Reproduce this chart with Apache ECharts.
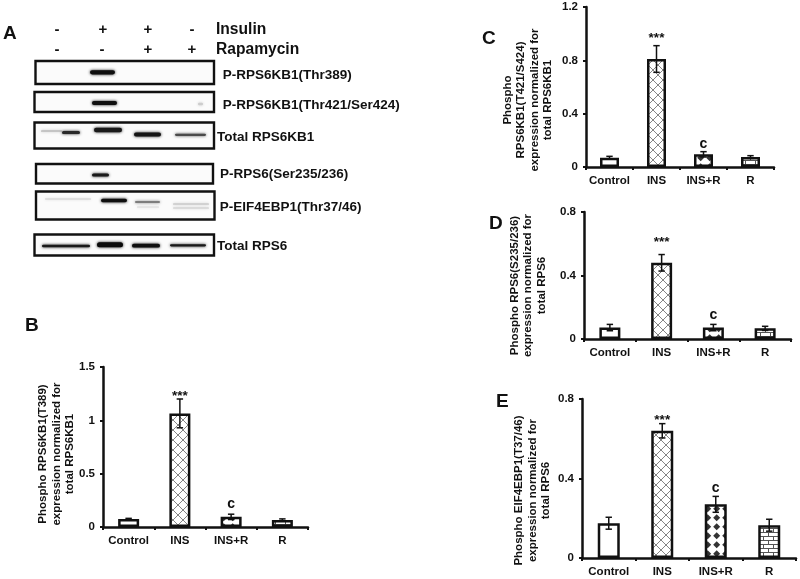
<!DOCTYPE html>
<html><head><meta charset="utf-8">
<style>html,body{margin:0;padding:0;background:#fff}#c{width:800px;height:579px}</style>
<script src="https://cdn.jsdelivr.net/npm/echarts@6/dist/echarts.min.js"></script>
</head><body><div id="c"></div>
<script>
const categories = ['Control', 'INS', 'INS+R', 'R'];
const fills = ['none', 'cross', 'diamond', 'brick'];

const valuesB = [0.075, 1.065, 0.095, 0.066];
const errorsB = [0.006, 0.135, 0.025, 0.010];
const valuesC = [0.07, 0.81, 0.095, 0.075];
const errorsC = [0.01, 0.10, 0.02, 0.01];
const valuesD = [0.072, 0.48, 0.072, 0.067];
const errorsD = [0.02, 0.052, 0.02, 0.013];
const valuesE = [0.175, 0.64, 0.27, 0.165];
const errorsE = [0.03, 0.036, 0.04, 0.03];
const marks = ['', '***', 'c', ''];

const nameB = 'Phospho RPS6KB1(T389)\nexpression normalized for\ntotal RPS6KB1';
const nameC = 'Phospho\nRPS6KB1(T421/S424)\nexpression normalized for\ntotal RPS6KB1';
const nameD = 'Phospho RPS6(S235/236)\nexpression normalized for\ntotal RPS6';
const nameE = 'Phospho EIF4EBP1(T37/46)\nexpression normalized for\ntotal RPS6';

const insulinSigns = ['-', '+', '+', '-'];
const rapamycinSigns = ['-', '-', '+', '+'];
const blotLabels = ['P-RPS6KB1(Thr389)', 'P-RPS6KB1(Thr421/Ser424)', 'Total RPS6KB1',
  'P-RPS6(Ser235/236)', 'P-EIF4EBP1(Thr37/46)', 'Total RPS6'];

// Blot bands: [left, right, middle, thickness, grey level] on the blot's own scale
const blotBands = [
  [90, 115, 72.3, 4.2, 15],
  [92, 117, 103, 3.8, 15],
  [41, 62, 131, 1.2, 165], [62, 80, 132.5, 3, 40],
  [94, 122, 130, 4.4, 25], [134, 161, 134.5, 4, 20], [175, 206, 134.8, 2.2, 75],
  [92, 109, 175, 3.2, 25],
  [45, 91, 199, 0.8, 205],
  [101, 127, 200.5, 3.4, 15], [135, 160, 202, 2.2, 125], [137, 159, 207, 1.2, 215],
  [173, 209, 204, 1.2, 185], [173, 209, 208, 1.2, 200],
  [42, 90, 246, 2.6, 25], [97, 123, 244.7, 5, 10], [132, 160, 245.7, 3.8, 15], [170, 206, 245.3, 2.2, 25],
  [198, 203, 104, 2.4, 205]
];
const blotBoxes = [
  [35.5, 214, 61, 84], [34.5, 214, 92, 112], [34.5, 214, 122.5, 148.5],
  [36, 213, 164, 183.5], [36, 214.5, 191.5, 219.5], [34.5, 214, 234.5, 255.5]
];

const INK = '#111';
const FONT = '"Liberation Sans", Arial, sans-serif';

function tile(w, h, draw) {
  const c = document.createElement('canvas');
  c.width = w; c.height = h;
  const g = c.getContext('2d');
  g.fillStyle = '#fff'; g.fillRect(0, 0, w, h);
  draw(g);
  return c;
}
const tiles = {
  cross: tile(10, 10, g => {
    g.strokeStyle = '#777'; g.lineWidth = 0.9;
    g.beginPath();
    g.moveTo(0, 0); g.lineTo(10, 10); g.moveTo(10, 0); g.lineTo(0, 10);
    g.stroke();
  }),
  diamond: tile(9.4, 9.4, g => {
    g.fillStyle = '#333';
    g.beginPath();
    g.moveTo(4.7, 1.2); g.lineTo(8.2, 4.7); g.lineTo(4.7, 8.2); g.lineTo(1.2, 4.7);
    g.closePath(); g.fill();
  }),
  brick: tile(10, 8, g => {
    g.strokeStyle = '#555'; g.lineWidth = 1;
    g.beginPath();
    g.moveTo(0, 0.5); g.lineTo(10, 0.5); g.moveTo(0, 4.5); g.lineTo(10, 4.5);
    g.moveTo(2.5, 0); g.lineTo(2.5, 4); g.moveTo(7.5, 4); g.lineTo(7.5, 8);
    g.stroke();
  })
};
function fillOf(name, ox) {
  if (name === 'none') return '#fff';
  return { image: tiles[name], repeat: 'repeat', x: ox, y: 0 };
}

const panels = [
  { v: valuesB, e: errorsB, name: nameB, max: 1.5, step: 0.5, left: 103, top: 367, w: 205, h: 160, bar: 21, gap: 26, shift: 7, star: 3, c: 10, ox: 3 },
  { v: valuesC, e: errorsC, name: nameC, max: 1.2, step: 0.4, left: 586, top: 7, w: 188, h: 160, bar: 19, gap: 31, shift: 13, star: 7.5, c: 8, ox: 3 },
  { v: valuesD, e: errorsD, name: nameD, max: 0.8, step: 0.4, left: 584, top: 212, w: 207, h: 127, bar: 21, gap: 35.5, shift: 10, star: 12, c: 9, ox: 3 },
  { v: valuesE, e: errorsE, name: nameE, max: 0.8, step: 0.4, left: 582, top: 399, w: 214, h: 159, bar: 22, gap: 29, shift: 12, star: 3, c: 8, ox: 1 }
];

const grids = [], xAxes = [], yAxes = [], series = [];
panels.forEach((p, i) => {
  grids.push({ left: p.left, top: p.top, width: p.w, height: p.h });
  xAxes.push({
    type: 'category', gridIndex: i, data: categories,
    axisLine: { lineStyle: { color: INK, width: 2.5 } },
    axisTick: { show: true, length: 3, lineStyle: { color: INK, width: 2 }, alignWithLabel: false },
    axisLabel: { color: INK, fontFamily: FONT, fontWeight: 'bold', fontSize: 11.5, margin: 8, interval: 0 }
  });
  yAxes.push({
    type: 'value', gridIndex: i, min: 0, max: p.max, interval: p.step,
    splitLine: { show: false },
    axisLine: { show: true, lineStyle: { color: INK, width: 2.5 } },
    axisTick: { show: true, length: 3, lineStyle: { color: INK, width: 2 } },
    axisLabel: { color: INK, fontFamily: FONT, fontWeight: 'bold', fontSize: 11.5, margin: 8 },
    name: p.name, nameLocation: 'middle', nameRotate: 90, nameGap: p.gap, nameMoveOverlap: false,
    nameTextStyle: { color: INK, fontFamily: FONT, fontWeight: 'bold', fontSize: 11.5, lineHeight: 13.5,
      padding: [0, p.shift * 2, 0, 0] }
  });
  series.push({
    type: 'bar', xAxisIndex: i, yAxisIndex: i, barWidth: p.bar, animation: false, silent: true,
    data: p.v.map((y, k) => ({ value: y, itemStyle: { color: fillOf(fills[k], p.ox), borderColor: INK, borderWidth: 2.5 } }))
  });
  series.push({
    type: 'custom', xAxisIndex: i, yAxisIndex: i, animation: false, silent: true, z: 5, clip: false,
    data: p.v.map((y, k) => [k, y, p.e[k]]),
    encode: { x: 0, y: 1 },
    renderItem(params, api) {
      const k = api.value(0), y = api.value(1), e = api.value(2);
      const t = api.coord([k, y + e]), b = api.coord([k, y - e]);
      const cap = 3.2;
      const st = { stroke: INK, lineWidth: 1.5, fill: null };
      const kids = [
        { type: 'line', shape: { x1: t[0], y1: t[1], x2: b[0], y2: b[1] }, style: st },
        { type: 'line', shape: { x1: t[0] - cap, y1: t[1], x2: t[0] + cap, y2: t[1] }, style: st },
        { type: 'line', shape: { x1: b[0] - cap, y1: b[1], x2: b[0] + cap, y2: b[1] }, style: st }
      ];
      const m = marks[k];
      if (m) {
        kids.push({ type: 'text', style: {
          x: t[0], y: t[1] - (m === 'c' ? p.c : p.star),
          text: m, fill: INK, align: 'center', verticalAlign: 'middle',
          font: m === 'c' ? 'bold 14px ' + FONT : 'bold 13.5px ' + FONT
        } });
      }
      return { type: 'group', children: kids };
    }
  });
});

// Western-blot panel on its own hidden scale
const bi = panels.length;
grids.push({ left: 0, top: 0, width: 800, height: 579 });
xAxes.push({ type: 'value', gridIndex: bi, min: 0, max: 800, show: false });
yAxes.push({ type: 'value', gridIndex: bi, min: 0, max: 579, inverse: true, show: false });
series.push({
  type: 'custom', xAxisIndex: bi, yAxisIndex: bi, animation: false, silent: true, clip: false,
  data: blotBoxes,
  renderItem(params, api) {
    const a = api.coord([api.value(0), api.value(2)]), b = api.coord([api.value(1), api.value(3)]);
    return { type: 'rect', shape: { x: a[0], y: a[1], width: b[0] - a[0], height: b[1] - a[1] },
      style: { fill: '#fbfbfb', stroke: INK, lineWidth: 2.4 } };
  }
});
series.push({
  type: 'custom', xAxisIndex: bi, yAxisIndex: bi, animation: false, silent: true, clip: false, z: 3,
  data: blotBands,
  renderItem(params, api) {
    const a = api.coord([api.value(0), api.value(2)]), b = api.coord([api.value(1), api.value(2)]);
    const h = api.value(3), g = api.value(4), col = 'rgb(' + g + ',' + g + ',' + g + ')';
    return { type: 'rect', shape: { x: a[0], y: a[1] - h / 2, width: b[0] - a[0], height: h, r: h / 2 },
      style: { fill: col, shadowBlur: 3, shadowColor: col } };
  }
});

function txt(x, y, text, font, align) {
  return { type: 'text', x: x, y: y, silent: true,
    style: { text: text, fill: INK, font: font, textAlign: align || 'left', textVerticalAlign: 'middle' } };
}
const signX = [57, 103, 148, 192];
const signXb = [57, 102, 148, 192];
const labelX = [222.7, 222.7, 217, 220, 219.7, 217];
const labelY = [75.7, 105.5, 137, 174, 207.5, 246];
const gfx = [
  txt(216, 30, 'Insulin', 'bold 15.6px ' + FONT),
  txt(216, 49.5, 'Rapamycin', 'bold 15.6px ' + FONT),
  txt(3, 34, 'A', 'bold 19px ' + FONT),
  txt(25, 326, 'B', 'bold 19px ' + FONT),
  txt(482, 39, 'C', 'bold 19px ' + FONT),
  txt(489, 224, 'D', 'bold 19px ' + FONT),
  txt(496, 402, 'E', 'bold 19px ' + FONT)
];
insulinSigns.forEach((s, i) => gfx.push(txt(signX[i], 30, s, 'bold 15px ' + FONT, 'center')));
rapamycinSigns.forEach((s, i) => gfx.push(txt(signXb[i], 49.5, s, 'bold 15px ' + FONT, 'center')));
blotLabels.forEach((s, i) => gfx.push(txt(labelX[i], labelY[i], s, 'bold 13.5px ' + FONT)));

const chart = echarts.init(document.getElementById('c'), null, { renderer: 'canvas' });
chart.setOption({
  animation: false, backgroundColor: '#fff',
  grid: grids, xAxis: xAxes, yAxis: yAxes, series: series, graphic: gfx
});
</script></body></html>
